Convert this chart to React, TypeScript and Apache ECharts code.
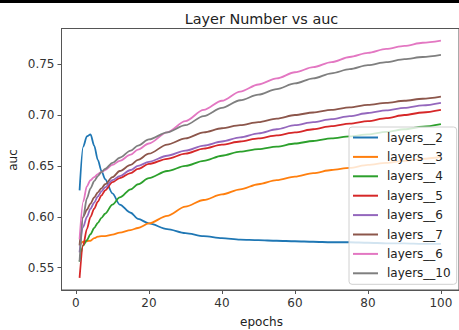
import React, { useEffect, useRef } from "react";
import * as echarts from "echarts";

const epochs = [1, 2, 3, 4, 5, 6, 7, 8, 10, 12, 15, 17, 20, 25, 30, 35, 40, 45, 50, 55, 60, 65, 70, 75, 80, 85, 90, 95, 100];

const layers2 = [0.626, 0.669, 0.679, 0.681, 0.670, 0.656, 0.645, 0.637, 0.623, 0.612, 0.604, 0.598, 0.5935, 0.588, 0.584, 0.581, 0.579, 0.5775, 0.577, 0.5765, 0.576, 0.5755, 0.575, 0.575, 0.5745, 0.574, 0.574, 0.5735, 0.5735];
const layers3 = [0.572, 0.5755, 0.576, 0.5765, 0.579, 0.5805, 0.581, 0.581, 0.5825, 0.5845, 0.587, 0.589, 0.5935, 0.601, 0.61, 0.6165, 0.622, 0.627, 0.632, 0.636, 0.6395, 0.643, 0.646, 0.648, 0.651, 0.653, 0.655, 0.657, 0.659];
const layers4 = [0.556, 0.572, 0.577, 0.583, 0.589, 0.594, 0.599, 0.603, 0.612, 0.619, 0.627, 0.632, 0.638, 0.645, 0.65, 0.655, 0.66, 0.664, 0.6665, 0.669, 0.672, 0.6745, 0.677, 0.679, 0.681, 0.6835, 0.686, 0.6885, 0.691];
const layers5 = [0.54, 0.572, 0.588, 0.6, 0.608, 0.615, 0.621, 0.626, 0.634, 0.638, 0.643, 0.647, 0.652, 0.657, 0.662, 0.667, 0.671, 0.674, 0.677, 0.68, 0.683, 0.686, 0.689, 0.6915, 0.694, 0.697, 0.7, 0.7025, 0.705];
const layers6 = [0.565, 0.59, 0.6, 0.608, 0.614, 0.62, 0.625, 0.629, 0.636, 0.64, 0.646, 0.65, 0.654, 0.66, 0.665, 0.67, 0.674, 0.678, 0.682, 0.686, 0.69, 0.693, 0.696, 0.699, 0.702, 0.7045, 0.707, 0.7095, 0.712];
const layers7 = [0.572, 0.6, 0.607, 0.613, 0.619, 0.624, 0.628, 0.632, 0.639, 0.645, 0.651, 0.656, 0.662, 0.671, 0.677, 0.683, 0.687, 0.69, 0.693, 0.6965, 0.7, 0.7025, 0.705, 0.7075, 0.71, 0.712, 0.714, 0.716, 0.718];
const layers6b = [0.578, 0.615, 0.63, 0.636, 0.639, 0.642, 0.644, 0.646, 0.651, 0.655, 0.661, 0.666, 0.672, 0.683, 0.694, 0.705, 0.714, 0.723, 0.73, 0.736, 0.742, 0.747, 0.752, 0.757, 0.761, 0.765, 0.768, 0.771, 0.773];
const layers10 = [0.556, 0.6, 0.618, 0.628, 0.635, 0.64, 0.644, 0.647, 0.653, 0.658, 0.665, 0.67, 0.676, 0.683, 0.69, 0.699, 0.707, 0.7145, 0.72, 0.7255, 0.731, 0.736, 0.741, 0.745, 0.749, 0.752, 0.755, 0.757, 0.759];

const seriesNames = ["layers__2", "layers__3", "layers__4", "layers__5", "layers__6", "layers__7", "layers__6", "layers__10"];
const seriesValues = [layers2, layers3, layers4, layers5, layers6, layers7, layers6b, layers10];
const colors = ["#1f77b4", "#ff7f0e", "#2ca02c", "#d62728", "#9467bd", "#8c564b", "#e377c2", "#7f7f7f"];

const xTicks = [0, 20, 40, 60, 80, 100];
const yTicks = [0.55, 0.6, 0.65, 0.7, 0.75];

const FONT = "DejaVu Sans";

export default function App() {
  const ref = useRef<HTMLDivElement>(null);
  useEffect(() => {
    if (!ref.current) return;
    const chart = echarts.init(ref.current, undefined, { renderer: "svg" });
    const keys = seriesNames.map((n, i) => n + "#" + i);
    chart.setOption({
      animation: false,
      backgroundColor: "#ffffff",
      grid: {
        left: 61.5,
        top: 28.5,
        width: 400.4,
        height: 261.5,
        show: true,
        borderColor: "#555",
        borderWidth: 1,
        backgroundColor: "transparent",
      },
      xAxis: {
        type: "value",
        min: -3.95,
        max: 104.95,
        splitLine: { show: false },
        axisLine: { show: true, onZero: false, lineStyle: { color: "#555", width: 1 } },
        axisTick: { show: true, length: 4, lineStyle: { color: "#555" }, customValues: xTicks },
        axisLabel: { show: true, margin: 7, color: "#333", fontSize: 12, fontFamily: FONT, customValues: xTicks },
      },
      yAxis: {
        type: "value",
        min: 0.5281,
        max: 0.785,
        splitLine: { show: false },
        axisLine: { show: true, onZero: false, lineStyle: { color: "#555", width: 1 } },
        axisTick: { show: true, length: 4, lineStyle: { color: "#555" }, customValues: yTicks },
        axisLabel: {
          show: true,
          margin: 7,
          color: "#333",
          fontSize: 12,
          fontFamily: FONT,
          customValues: yTicks,
          formatter: (v: number) => v.toFixed(2),
        },
      },
      legend: {
        orient: "vertical",
        left: 349,
        top: 127,
        padding: [3.5, 6, 4, 4],
        itemWidth: 25,
        itemHeight: 2,
        itemGap: 5.4,
        icon: "rect",
        backgroundColor: "rgba(255,255,255,0.8)",
        borderColor: "#d0d0d0",
        borderWidth: 1,
        borderRadius: 3,
        selectedMode: false,
        data: keys,
        formatter: (name: string) => name.split("#")[0],
        textStyle: { fontSize: 12, fontFamily: FONT, color: "#222", lineHeight: 14, padding: [0, 0, 0, 4] },
      },
      graphic: [
        { type: "rect", shape: { x: 0, y: 0, width: 459, height: 3 }, style: { fill: "#000" }, silent: true },
        {
          type: "text",
          x: 261.5,
          y: 19,
          style: { text: "Layer Number vs auc", fontSize: 14.4, fontFamily: FONT, fill: "#222", align: "center", verticalAlign: "middle" },
        },
        {
          type: "text",
          x: 261.5,
          y: 321.5,
          style: { text: "epochs", fontSize: 12, fontFamily: FONT, fill: "#222", align: "center", verticalAlign: "middle" },
        },
        {
          type: "text",
          x: 13,
          y: 160,
          rotation: Math.PI / 2,
          style: { text: "auc", fontSize: 12, fontFamily: FONT, fill: "#222", align: "center", verticalAlign: "middle" },
        },
      ],
      series: seriesValues.map((vals, i) => ({
        name: keys[i],
        type: "line",
        showSymbol: false,
        smooth: 0.3,
        smoothMonotone: "x",
        color: colors[i],
        lineStyle: { width: 1.8, color: colors[i] },
        data: vals.map((v, j) => [epochs[j], v]),
      })),
    });
    return () => chart.dispose();
  }, []);
  return <div ref={ref} style={{ position: "fixed", left: 0, top: 0, width: 459, height: 330 }} />;
}
